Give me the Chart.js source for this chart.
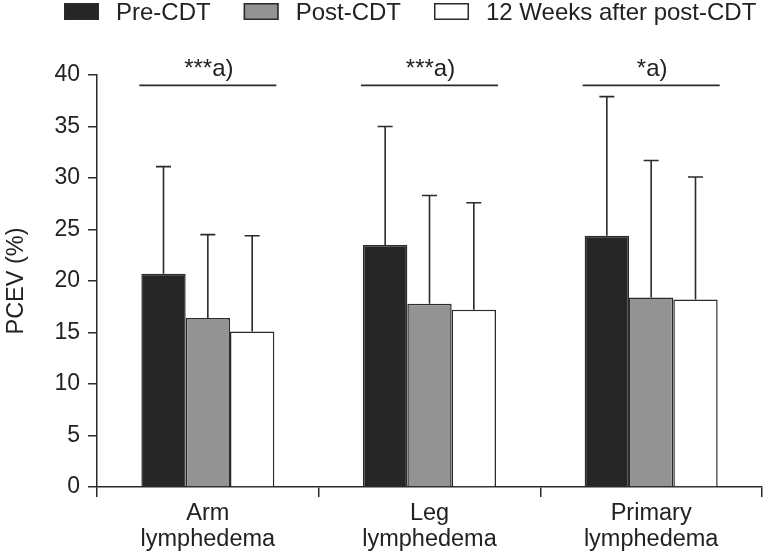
<!DOCTYPE html>
<html><head><meta charset="utf-8">
<script src="https://cdn.jsdelivr.net/npm/chart.js@4/dist/chart.umd.min.js"></script>
<style>html,body{margin:0;padding:0;background:#fff}#wrap{width:765px;height:552px}</style>
</head><body><div id="wrap"><canvas id="c" width="765" height="552"></canvas></div>
<script>
const categories = [['Arm','lymphedema'],['Leg','lymphedema'],['Primary','lymphedema']];
const seriesNames = ['Pre-CDT','Post-CDT','12 Weeks after post-CDT'];
const preCDT = [20.7, 23.5, 24.4];
const postCDT = [16.4, 17.8, 18.4];
const weeks12 = [15.1, 17.2, 18.2];
const preSD = [10.4, 11.5, 13.5];
const postSD = [8.1, 10.5, 13.3];
const weeks12SD = [9.3, 10.4, 11.9];
const significance = ['***a)', '***a)', '*a)'];
const significanceLevel = [39.0, 39.0, 39.0];
const yTicks = [0, 5, 10, 15, 20, 25, 30, 35, 40];

const FONT = '"Liberation Sans", Arial, Helvetica, sans-serif';
const INK = '#2b2b2b';
const TEXT = '#222222';
const fills = ['#262626', '#939393', '#ffffff'];

const errorBars = {
  id: 'errorBars',
  afterDatasetsDraw(chart) {
    const ctx = chart.ctx, y = chart.scales.y;
    ctx.save();
    ctx.strokeStyle = INK; ctx.lineWidth = 1.6;
    chart.data.datasets.forEach((ds, i) => {
      const meta = chart.getDatasetMeta(i);
      meta.data.forEach((bar, j) => {
        const top = y.getPixelForValue(ds.data[j] + ds.sd[j]);
        ctx.beginPath();
        ctx.moveTo(bar.x, bar.y); ctx.lineTo(bar.x, top);
        ctx.moveTo(bar.x - 7.5, top); ctx.lineTo(bar.x + 7.5, top);
        ctx.stroke();
      });
    });
    ctx.restore();
  }
};

const sigMarks = {
  id: 'sigMarks',
  afterDraw(chart) {
    const ctx = chart.ctx, y = chart.scales.y;
    const m0 = chart.getDatasetMeta(0), m2 = chart.getDatasetMeta(chart.data.datasets.length - 1);
    ctx.save();
    ctx.strokeStyle = INK; ctx.lineWidth = 1.8; ctx.fillStyle = TEXT;
    ctx.font = '24px ' + FONT; ctx.textAlign = 'center'; ctx.textBaseline = 'alphabetic';
    significance.forEach((txt, j) => {
      const b0 = m0.data[j], b2 = m2.data[j];
      const l = b0.x - b0.width / 2 - 2, r = b2.x + b2.width / 2 + 2;
      const ly = y.getPixelForValue(significanceLevel[j]);
      ctx.beginPath(); ctx.moveTo(l, ly); ctx.lineTo(r, ly); ctx.stroke();
      ctx.fillText(txt, (l + r) / 2 + 1, ly - 9.5);
    });
    ctx.restore();
  }
};

const topLegend = {
  id: 'topLegend',
  afterDraw(chart) {
    const ctx = chart.ctx;
    ctx.save();
    ctx.font = '24px ' + FONT; ctx.textBaseline = 'alphabetic'; ctx.textAlign = 'left';
    let x = 64;
    const by = 3, bw = 35, bh = 17;
    chart.data.datasets.forEach((ds) => {
      ctx.fillStyle = ds.backgroundColor;
      ctx.fillRect(x, by, bw, bh);
      ctx.strokeStyle = INK; ctx.lineWidth = 1.5;
      ctx.strokeRect(x + 0.75, by + 0.75, bw - 1.5, bh - 1.5);
      ctx.fillStyle = TEXT;
      ctx.fillText(ds.label, x + bw + 17, 19.5);
      x += bw + 17 + ctx.measureText(ds.label).width + 33;
    });
    ctx.restore();
  }
};

new Chart(document.getElementById('c'), {
  type: 'bar',
  data: {
    labels: categories,
    datasets: [
      { label: seriesNames[0], data: preCDT, sd: preSD, backgroundColor: fills[0], borderColor: INK, borderWidth: 1.5 },
      { label: seriesNames[1], data: postCDT, sd: postSD, backgroundColor: fills[1], borderColor: INK, borderWidth: 1.5 },
      { label: seriesNames[2], data: weeks12, sd: weeks12SD, backgroundColor: fills[2], borderColor: INK, borderWidth: 1.5 }
    ]
  },
  options: {
    responsive: false, animation: false, devicePixelRatio: 1,
    layout: { padding: { top: 75, right: 3, left: 0, bottom: 0 } },
    datasets: { bar: { categoryPercentage: 0.6, barPercentage: 1.0 } },
    plugins: { legend: { display: false }, tooltip: { enabled: false } },
    scales: {
      x: {
        grid: { display: true, drawOnChartArea: false, drawTicks: true, tickLength: 10, color: INK, lineWidth: 1.5, offset: true },
        border: { display: true, color: INK, width: 1.5 },
        ticks: { font: { family: FONT, size: 23.5, lineHeight: 1.12 }, color: TEXT, padding: 3, maxRotation: 0 },
        afterFit(s) { s.height = 65; }
      },
      y: {
        min: 0, max: 40,
        afterBuildTicks(s) { s.ticks = yTicks.map(v => ({ value: v })); },
        ticks: { font: { family: FONT, size: 23 }, color: TEXT, padding: 8 },
        grid: { drawOnChartArea: false, tickLength: 9, color: INK, lineWidth: 1.5 },
        border: { display: true, color: INK, width: 1.5 },
        title: { display: true, text: 'PCEV (%)', font: { family: FONT, size: 23.5 }, color: TEXT, padding: { top: 2, bottom: 0 } },
        afterFit(s) { s.width = 97; }
      }
    }
  },
  plugins: [errorBars, sigMarks, topLegend]
});
</script></body></html>
